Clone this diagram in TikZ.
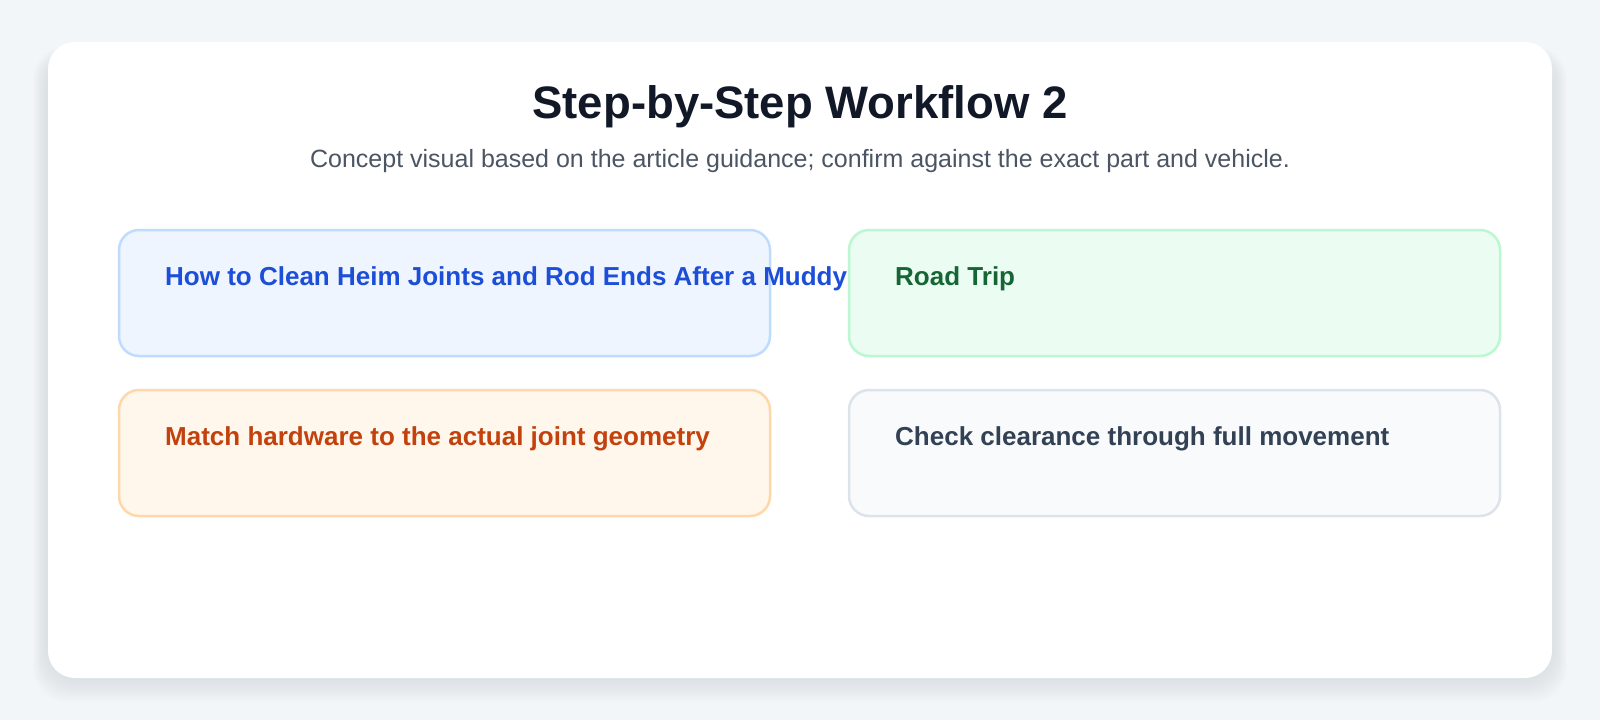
\documentclass[tikz,border=0pt]{standalone}
\usepackage{fontspec}
\setmainfont{Liberation Sans}
\definecolor{bgc}{HTML}{F3F6F9}
\definecolor{titlec}{HTML}{111827}
\definecolor{subc}{HTML}{4B5563}
\definecolor{bluefill}{HTML}{EEF5FF}
\definecolor{blueline}{HTML}{BFDBFE}
\definecolor{bluetext}{HTML}{1D4ED8}
\definecolor{greenfill}{HTML}{EBFCF3}
\definecolor{greenline}{HTML}{BBF7D0}
\definecolor{greentext}{HTML}{166534}
\definecolor{orangefill}{HTML}{FFF7EC}
\definecolor{orangeline}{HTML}{FED7AA}
\definecolor{orangetext}{HTML}{C2410C}
\definecolor{slatefill}{HTML}{F8FAFC}
\definecolor{slateline}{HTML}{DDE3EA}
\definecolor{slatetext}{HTML}{334155}
\definecolor{shadowc}{HTML}{7F9296}
\tikzset{
  stepcard/.style={rounded corners=20pt, line width=2.5pt},
  steptext/.style={anchor=base west, inner sep=0pt, font=\fontsize{26}{30}\selectfont\bfseries},
}
\begin{document}
\begin{tikzpicture}[x=1pt,y=-1pt]
\fill[bgc] (0,0) rectangle (1600,720);
\useasboundingbox (0,0) rectangle (1600,720);
% shadow
\foreach \i in {1,...,16}{
  \fill[shadowc, opacity=0.011, rounded corners=34pt]
    (52-\i*1.2, 56-\i*0.6) rectangle (1548+\i*1.2, 670+\i*2.0);
}
\fill[white, rounded corners=27pt] (48,42) rectangle (1552,678);
\node[anchor=base, inner sep=0pt, text=titlec, font=\fontsize{45.5}{50}\selectfont\bfseries] (title) at (800,118) {Step-by-Step Workflow 2};
\node[anchor=base, inner sep=0pt, text=subc, font=\fontsize{25}{30}\selectfont] (sub) at (800,167) {Concept visual based on the article guidance; confirm against the exact part and vehicle.};
% cards
\draw[stepcard, fill=bluefill, draw=blueline] (119,230) rectangle (770,356);
\draw[stepcard, fill=greenfill, draw=greenline] (849,230) rectangle (1500,356);
\draw[stepcard, fill=orangefill, draw=orangeline] (119,390) rectangle (770,516);
\draw[stepcard, fill=slatefill, draw=slateline] (849,390) rectangle (1500,516);
\node[steptext, text=bluetext] (t1) at (165,285) {How to Clean Heim Joints and Rod Ends After a Muddy};
\node[steptext, text=greentext] (t2) at (895,285) {Road Trip};
\node[steptext, text=orangetext] (t3) at (165,445) {Match hardware to the actual joint geometry};
\node[steptext, text=slatetext] (t4) at (895,445) {Check clearance through full movement};
\end{tikzpicture}
\end{document}
